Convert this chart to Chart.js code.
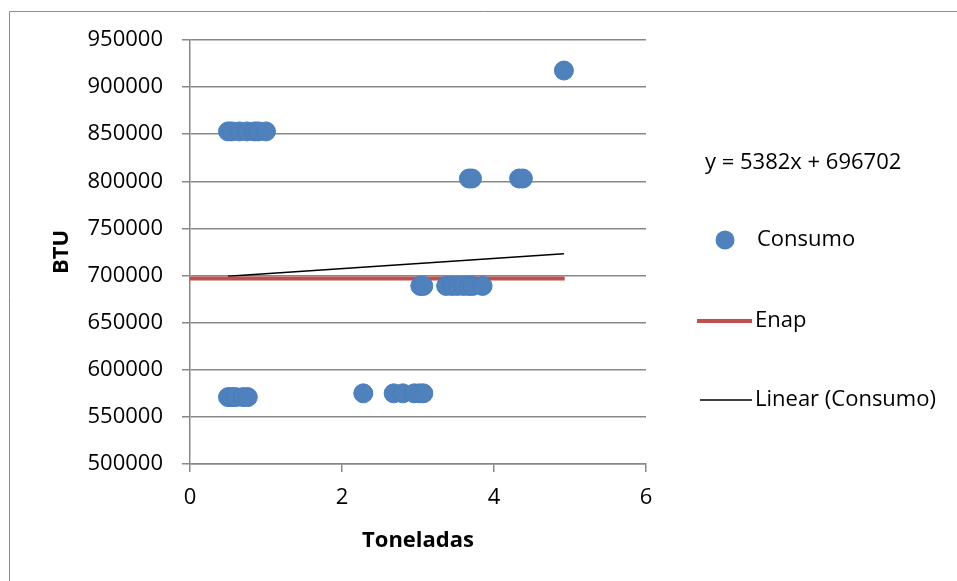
<!DOCTYPE html>
<html>
<head>
<meta charset="utf-8">
<script src="https://cdn.jsdelivr.net/npm/chart.js@4.4.1/dist/chart.umd.min.js"></script>
<style>
  html, body { margin: 0; padding: 0; background: #ffffff; }
  #wrap { width: 957px; height: 581px; position: relative; }
</style>
</head>
<body>
<div id="wrap"><canvas id="chart" width="957" height="581"></canvas></div>
<script>
// Consumo: tonnes (x) against BTU (y)
const tonnes = [
  0.50, 0.55, 0.65, 0.75, 0.85, 0.90, 1.00,
  4.92,
  3.67, 3.71, 4.33, 4.38,
  3.03, 3.07, 3.37, 3.45, 3.52, 3.60, 3.67, 3.72, 3.85,
  2.28, 2.68, 2.80, 2.95, 3.02, 3.07,
  0.50, 0.55, 0.60, 0.70, 0.76
];
const btu = [
  853000, 853000, 853000, 853000, 853000, 853000, 853000,
  917600,
  803000, 803000, 803000, 803000,
  689000, 689000, 689000, 689000, 689000, 689000, 689000, 689000, 689000,
  575000, 575000, 575000, 575000, 575000, 575000,
  571000, 571000, 571000, 571000, 571000
];

// Enap reference level
const enapX = [0, 4.93];
const enapY = [697000, 697000];

// Linear trend of Consumo
const trendSlope = 5382;
const trendIntercept = 696702;
const trendX = [0.5, 4.92];

const xTicks = [0, 2, 4, 6];
const yRange = [500000, 950000];

const FONT = "'Open Sans', 'Liberation Sans', sans-serif";
const GRID = '#888888';

const consumoPts = tonnes.map((t, i) => ({ x: t, y: btu[i] }));
const enapPts = enapX.map((t, i) => ({ x: t, y: enapY[i] }));
const trendPts = trendX.map(t => ({ x: t, y: trendSlope * t + trendIntercept }));
const equation = 'y = ' + trendSlope + 'x + ' + trendIntercept;

// Outer frame of the chart (left and top edges fall inside the canvas)
const framePlugin = {
  id: 'frame',
  beforeDraw(chart) {
    const ctx = chart.ctx;
    ctx.save();
    ctx.fillStyle = '#ffffff';
    ctx.fillRect(0, 0, chart.width, chart.height);
    ctx.strokeStyle = '#8c8c8c';
    ctx.lineWidth = 1;
    ctx.beginPath();
    ctx.moveTo(9.5, chart.height + 5);
    ctx.lineTo(9.5, 11.5);
    ctx.lineTo(chart.width + 5, 11.5);
    ctx.stroke();
    ctx.restore();
  }
};

// Right-hand legend with the trend equation
const sideLegend = {
  id: 'sideLegend',
  afterDraw(chart) {
    const ctx = chart.ctx;
    const ds = chart.data.datasets;
    ctx.save();
    ctx.font = '22px ' + FONT;
    ctx.fillStyle = '#000000';
    ctx.textBaseline = 'middle';
    ctx.textAlign = 'left';
    ctx.fillText(equation, 705, 163);

    // Consumo marker
    ctx.beginPath();
    ctx.arc(725, 240, 9.5, 0, Math.PI * 2);
    ctx.fillStyle = ds[0].backgroundColor;
    ctx.fill();
    ctx.fillStyle = '#000000';
    ctx.fillText(ds[0].label, 757, 240);

    // Enap line
    ctx.beginPath();
    ctx.moveTo(697, 321);
    ctx.lineTo(752, 321);
    ctx.strokeStyle = ds[1].borderColor;
    ctx.lineWidth = ds[1].borderWidth;
    ctx.stroke();
    ctx.fillText(ds[1].label, 755, 321);

    // Trend line
    ctx.beginPath();
    ctx.moveTo(700, 400);
    ctx.lineTo(752, 400);
    ctx.strokeStyle = ds[2].borderColor;
    ctx.lineWidth = ds[2].borderWidth;
    ctx.stroke();
    ctx.fillText(ds[2].label, 755, 400);
    ctx.restore();
  }
};

new Chart(document.getElementById('chart'), {
  type: 'scatter',
  data: {
    datasets: [
      {
        label: 'Consumo',
        data: consumoPts,
        backgroundColor: '#4F81BD',
        borderColor: '#4A7EBB',
        borderWidth: 1,
        pointRadius: 9.5,
        pointHoverRadius: 9.5,
        showLine: false
      },
      {
        label: 'Enap',
        data: enapPts,
        type: 'line',
        borderColor: '#C0504D',
        backgroundColor: '#C0504D',
        borderWidth: 4,
        pointRadius: 0,
        fill: false
      },
      {
        label: 'Linear (Consumo)',
        data: trendPts,
        type: 'line',
        borderColor: '#000000',
        backgroundColor: '#000000',
        borderWidth: 1.5,
        pointRadius: 0,
        fill: false
      }
    ]
  },
  options: {
    responsive: false,
    animation: false,
    layout: { padding: { left: 9, top: 40, right: 311, bottom: 0 } },
    plugins: {
      legend: { display: false },
      tooltip: { enabled: false }
    },
    scales: {
      x: {
        type: 'linear',
        min: 0,
        max: 6,
        afterBuildTicks(scale) { scale.ticks = xTicks.map(v => ({ value: v })); },
        afterFit(scale) { scale.height = 117; },
        grid: { drawOnChartArea: false, drawTicks: true, tickLength: 8, color: GRID, lineWidth: 1.5 },
        border: { color: GRID, width: 1.5 },
        ticks: { color: '#000000', font: { family: FONT, size: 22 }, padding: 13, callback: v => String(v) },
        title: {
          display: true,
          text: 'Toneladas',
          color: '#000000',
          font: { family: FONT, size: 22, weight: 'bold' },
          padding: { top: 0, bottom: 27 }
        }
      },
      y: {
        type: 'linear',
        min: yRange[0],
        max: yRange[1],
        ticks: { stepSize: 50000, color: '#000000', font: { family: FONT, size: 22 }, padding: 19, callback: v => String(v) },
        afterFit(scale) { scale.width = 181; },
        grid: { color: GRID, lineWidth: 1.5, tickLength: 8 },
        border: { color: GRID, width: 1.5 },
        title: {
          display: true,
          text: 'BTU',
          color: '#000000',
          font: { family: FONT, size: 22, weight: 'bold' },
          padding: { top: 40, bottom: 0 }
        }
      }
    }
  },
  plugins: [framePlugin, sideLegend]
});
</script>
</body>
</html>
